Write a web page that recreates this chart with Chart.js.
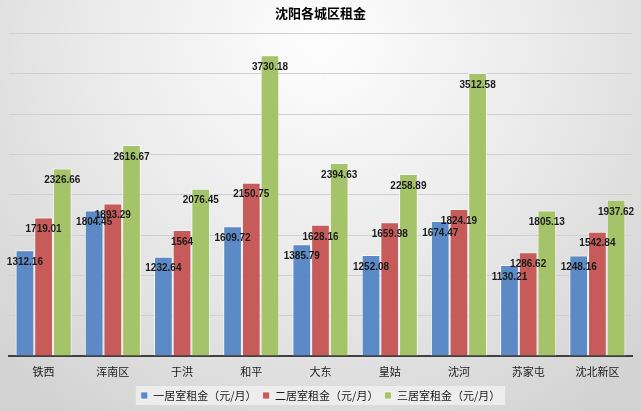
<!DOCTYPE html>
<html>
<head>
<meta charset="utf-8">
<script src="https://cdn.jsdelivr.net/npm/chart.js@4.4.0/dist/chart.umd.min.js"></script>
<style>
  html, body { margin: 0; padding: 0; background: #e0e0e0; }
  #wrap { width: 641px; height: 411px; }
</style>
</head>
<body>
<div id="wrap"><canvas id="rentChart" width="641" height="411"></canvas></div>
<script>
const districts = ['铁西', '浑南区', '于洪', '和平', '大东', '皇姑', '沈河', '苏家屯', '沈北新区'];
const oneRoom = [1312.16, 1804.45, 1232.64, 1609.72, 1385.79, 1252.08, 1674.47, 1130.21, 1248.16];
const twoRoom = [1719.01, 1893.29, 1564, 2150.75, 1628.16, 1659.98, 1824.19, 1286.62, 1542.84];
const threeRoom = [2326.66, 2616.67, 2076.45, 3730.18, 2394.63, 2258.89, 3512.58, 1805.13, 1937.62];
const seriesNames = ['一居室租金（元/月）', '二居室租金（元/月）', '三居室租金（元/月）'];

const cjk = '"Noto Sans CJK SC", "Noto Sans", sans-serif';

// background + box behind the legend items
const bgPlugin = {
    id: 'bg',
    beforeDraw(chart) {
        const ctx = chart.ctx;
        const w = chart.width, h = chart.height;
        const g = ctx.createRadialGradient(w / 2, 40, 20, w / 2, 40, 460);
        g.addColorStop(0, '#fcfcfc');
        g.addColorStop(0.5, '#e9e9e9');
        g.addColorStop(1, '#d2d2d2');
        ctx.save();
        ctx.fillStyle = g;
        ctx.fillRect(0, 0, w, h);
        const lg = chart.legend;
        if (lg && lg.legendHitBoxes && lg.legendHitBoxes.length) {
            const boxes = lg.legendHitBoxes;
            let l = Infinity, r = -Infinity, t = Infinity, b = -Infinity;
            boxes.forEach(hb => {
                l = Math.min(l, hb.left); r = Math.max(r, hb.left + hb.width);
                t = Math.min(t, hb.top); b = Math.max(b, hb.top + hb.height);
            });
            ctx.fillStyle = 'rgba(238,238,238,0.9)';
            ctx.fillRect(l - 5, t - 4, r - l + 10, b - t + 8);
        }
        ctx.restore();
    }
};

// value labels just under the top of each bar
const labelPlugin = {
    id: 'barLabels',
    afterDatasetsDraw(chart) {
        const ctx = chart.ctx;
        ctx.save();
        ctx.font = 'bold 10px "Liberation Sans", sans-serif';
        ctx.fillStyle = '#1a1a1a';
        ctx.textAlign = 'center';
        ctx.textBaseline = 'middle';
        chart.data.datasets.forEach((ds, i) => {
            chart.getDatasetMeta(i).data.forEach((bar, idx) => {
                ctx.fillText(String(ds.data[idx]), bar.x, bar.y + 12);
            });
        });
        ctx.restore();
    }
};

const ctx = document.getElementById('rentChart').getContext('2d');
new Chart(ctx, {
    type: 'bar',
    data: {
        labels: districts,
        datasets: [
            { label: seriesNames[0], data: oneRoom, backgroundColor: '#5b8ac6' },
            { label: seriesNames[1], data: twoRoom, backgroundColor: '#c65b5a' },
            { label: seriesNames[2], data: threeRoom, backgroundColor: '#a5c46a' }
        ]
    },
    options: {
        responsive: false,
        animation: false,
        devicePixelRatio: 1,
        datasets: {
            bar: {
                categoryPercentage: 0.81,
                barPercentage: 1,
                borderWidth: 1,
                borderColor: 'rgba(255,255,255,0.7)',
                borderSkipped: 'bottom'
            }
        },
        layout: { padding: { left: 9, right: 9, top: 0, bottom: 0 } },
        scales: {
            x: {
                grid: { display: false },
                border: { display: true, color: '#404040', width: 2 },
                ticks: { color: '#1a1a1a', font: { family: cjk, size: 11 }, padding: 1 },
                afterFit(scale) { scale.height = 28; }
            },
            y: {
                min: 0,
                max: 4000,
                ticks: { display: false, stepSize: 500 },
                grid: { color: '#d0d0d0', drawTicks: false, lineWidth: 1 },
                border: { display: false }
            }
        },
        plugins: {
            title: {
                display: true,
                text: '沈阳各城区租金',
                color: '#000',
                font: { family: cjk, size: 13, weight: 'bold' },
                padding: { top: 5, bottom: 13 }
            },
            legend: {
                position: 'bottom',
                labels: {
                    color: '#1a1a1a',
                    font: { family: cjk, size: 11 },
                    boxWidth: 7,
                    boxHeight: 7,
                    padding: 6
                }
            },
            tooltip: { enabled: false }
        }
    },
    plugins: [bgPlugin, labelPlugin]
});
</script>
</body>
</html>
